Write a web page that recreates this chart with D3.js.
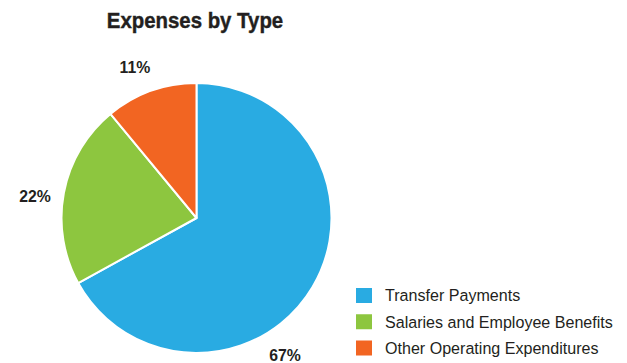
<!DOCTYPE html>
<html>
<head>
<meta charset="utf-8">
<script src="https://cdn.jsdelivr.net/npm/d3@7"></script>
<style>
  html, body { margin: 0; padding: 0; background: #fff; }
  svg { display: block; }
</style>
</head>
<body>
<svg id="chart" width="627" height="363"></svg>
<script>
// Expense categories and their shares (percent)
const categories = ["Transfer Payments", "Salaries and Employee Benefits", "Other Operating Expenditures"];
const shares = [67, 22, 11];
const colors = ["#29abe2", "#8dc63f", "#f26522"];
// where along each slice (0 = start, 1 = end) its percent label sits
const labelAlong = [0.61, 0.46, 0.44];

const cx = 196.5, cy = 218, R = 135, labelR = 163;
const font = "'Liberation Sans', Arial, Helvetica, sans-serif";
const ink = "#231f20";

const svg = d3.select("#chart");

// Title (condensed by a horizontal squeeze)
svg.append("text")
  .attr("transform", "translate(195,28) scale(0.915,1)")
  .attr("text-anchor", "middle")
  .attr("font-family", font)
  .attr("font-weight", "bold")
  .attr("font-size", 22.3)
  .attr("fill", ink)
  .attr("stroke", ink)
  .attr("stroke-width", 0.4)
  .text("Expenses by Type");

// Pie
const pie = d3.pie().sort(null).value(d => d)(shares);
const arc = d3.arc().innerRadius(0).outerRadius(R);

const g = svg.append("g").attr("transform", `translate(${cx},${cy})`);
g.selectAll("path.slice")
  .data(pie)
  .join("path")
  .attr("class", "slice")
  .attr("d", arc)
  .attr("fill", (d, i) => colors[i])
  .attr("stroke", "#fff")
  .attr("stroke-width", 2)
  .attr("stroke-linejoin", "round");

// Percent labels outside the pie
const labelAngle = (d, i) => d.startAngle + (d.endAngle - d.startAngle) * labelAlong[i];
g.selectAll("text.pct")
  .data(pie)
  .join("text")
  .attr("class", "pct")
  .attr("transform", (d, i) => {
    const a = labelAngle(d, i);
    return `translate(${labelR * Math.sin(a)},${-labelR * Math.cos(a)}) scale(0.97,1)`;
  })
  .attr("dy", "0.36em")
  .attr("text-anchor", "middle")
  .attr("font-family", font)
  .attr("font-weight", "bold")
  .attr("font-size", 16.3)
  .attr("fill", ink)
  .text(d => d.data + "%");

// Legend
const legendY = d3.scalePoint().domain(categories).range([295.5, 348]);
const rows = svg.append("g").selectAll("g")
  .data(categories)
  .join("g")
  .attr("transform", d => `translate(356,${legendY(d)})`);
rows.append("rect")
  .attr("x", 0).attr("y", -7.5)
  .attr("width", 16).attr("height", 15)
  .attr("fill", (d, i) => colors[i]);
rows.append("text")
  .attr("transform", "translate(29,0) scale(0.975,1)")
  .attr("dy", "0.36em")
  .attr("font-family", font)
  .attr("font-size", 16.5)
  .attr("fill", ink)
  .text(d => d);
</script>
</body>
</html>
